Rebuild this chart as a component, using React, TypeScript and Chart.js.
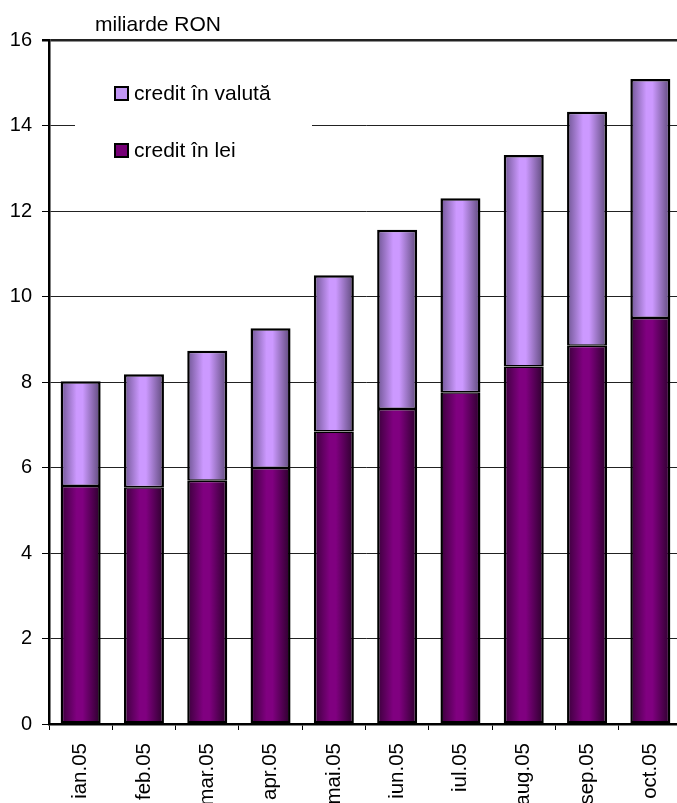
import { useEffect, useRef } from 'react';
import { Chart, registerables } from 'chart.js';

Chart.register(...registerables);

const categories = ['ian.05', 'feb.05', 'mar.05', 'apr.05', 'mai.05', 'iun.05', 'iul.05', 'aug.05', 'sep.05', 'oct.05'];
const leiValues = [5.57, 5.54, 5.69, 5.99, 6.84, 7.37, 7.76, 8.36, 8.85, 9.5];
const valutaValues = [2.45, 2.64, 3.04, 3.27, 3.66, 4.19, 4.54, 4.95, 5.47, 5.59];
const seriesNames = ['credit în lei', 'credit în valută'];
const unitLabel = 'miliarde RON';
const yMin = 0;
const yMax = 16;
const yStep = 2;

const FONT = '"Liberation Sans", Arial, Helvetica, sans-serif';
const BAR_PCT = 0.632;

const leiColors = { dark1: '#3a003a', light: '#800080', dark2: '#2a002a' };
const valutaColors = { dark1: '#6e5592', light: '#cc99ff', dark2: '#5c4878' };

function barGradient(cols: { dark1: string; light: string; dark2: string }) {
  return (ctx: any) => {
    const chart = ctx.chart;
    const area = chart.chartArea;
    const xs = chart.scales && chart.scales.x;
    if (!area || !xs || ctx.type !== 'data') return cols.light;
    const cx = xs.getPixelForValue(ctx.dataIndex);
    const w = (area.width / categories.length) * BAR_PCT;
    const g = chart.ctx.createLinearGradient(cx - w / 2, 0, cx + w / 2, 0);
    g.addColorStop(0, cols.dark1);
    g.addColorStop(0.4, cols.light);
    g.addColorStop(0.55, cols.light);
    g.addColorStop(1, cols.dark2);
    return g;
  };
}

const overlayPlugin = {
  id: 'overlay',
  beforeDatasetsDraw(chart: any) {
    const c = chart.ctx;
    const a = chart.chartArea;
    c.save();
    c.fillStyle = '#ffffff';
    c.fillRect(a.left + 26, 62, 237, 118);
    const items = [
      { name: seriesNames[1], fill: '#c196f5', y: 87 },
      { name: seriesNames[0], fill: '#760076', y: 144 },
    ];
    c.font = `21px ${FONT}`;
    c.textBaseline = 'alphabetic';
    c.textAlign = 'left';
    for (const it of items) {
      c.fillStyle = it.fill;
      c.fillRect(a.left + 66, it.y, 13, 13);
      c.strokeStyle = '#000';
      c.lineWidth = 2;
      c.strokeRect(a.left + 66, it.y, 13, 13);
      c.fillStyle = '#000';
      c.fillText(it.name, a.left + 85, it.y + 13);
    }
    c.restore();
  },
  afterDraw(chart: any) {
    const c = chart.ctx;
    c.save();
    c.font = `21px ${FONT}`;
    c.fillStyle = '#000';
    c.textAlign = 'left';
    c.textBaseline = 'alphabetic';
    c.fillText(unitLabel, 95, 30.5);
    c.restore();
  },
};

export default function App() {
  const ref = useRef<HTMLCanvasElement | null>(null);
  useEffect(() => {
    if (!ref.current) return;
    const chart = new Chart(ref.current, {
      type: 'bar',
      data: {
        labels: categories,
        datasets: [
          {
            label: seriesNames[0],
            data: leiValues,
            backgroundColor: barGradient(leiColors),
            borderColor: '#000',
            borderWidth: { left: 2.5, right: 2.5, top: 1.5, bottom: 2.5 },
            borderSkipped: false,
            barPercentage: BAR_PCT,
            categoryPercentage: 1,
          },
          {
            label: seriesNames[1],
            data: valutaValues,
            backgroundColor: barGradient(valutaColors),
            borderColor: '#000',
            borderWidth: { left: 2.5, right: 2.5, top: 2.5, bottom: 1.5 },
            borderSkipped: false,
            barPercentage: BAR_PCT,
            categoryPercentage: 1,
          },
        ],
      },
      options: {
        responsive: false,
        animation: false,
        devicePixelRatio: 1,
        layout: { padding: { top: 40, right: 18, left: 0, bottom: 0 } },
        plugins: {
          legend: { display: false },
          title: { display: false },
          tooltip: { enabled: false },
        },
        scales: {
          x: {
            stacked: true,
            offset: true,
            grid: {
              drawOnChartArea: false,
              drawTicks: true,
              tickLength: 6,
              color: '#000',
              lineWidth: 1,
              offset: true,
            },
            border: { display: true, color: '#000', width: 2.5 },
            ticks: {
              autoSkip: false,
              minRotation: 90,
              maxRotation: 90,
              padding: 13,
              color: '#000',
              font: { family: FONT, size: 20.5 },
            },
            afterFit: (s: any) => {
              s.height = 79;
              s.paddingLeft = 0;
              s.paddingRight = 0;
            },
          },
          y: {
            stacked: true,
            min: yMin,
            max: yMax,
            ticks: {
              stepSize: yStep,
              padding: 10,
              color: '#000',
              font: { family: FONT, size: 20 },
            },
            grid: {
              color: '#222',
              lineWidth: (ctx: any) => (ctx.tick && ctx.tick.value === yMax ? 2.5 : 1),
              drawTicks: true,
              tickLength: 7,
              tickColor: '#000',
            },
            border: { display: true, color: '#000', width: 2.5 },
            afterFit: (s: any) => {
              s.width = 49;
            },
          },
        },
      },
      plugins: [overlayPlugin],
    });
    return () => chart.destroy();
  }, []);
  return (
    <div style={{ position: 'absolute', left: 0, top: 0, width: 677, height: 803, overflow: 'hidden', background: '#fff' }}>
      <canvas ref={ref} width={700} height={803} style={{ display: 'block' }} />
    </div>
  );
}
